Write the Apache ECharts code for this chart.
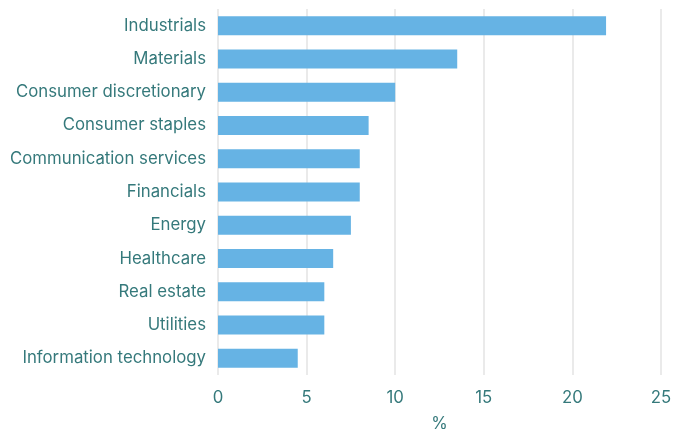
<!DOCTYPE html>
<html>
<head>
<meta charset="utf-8">
<script src="https://cdn.jsdelivr.net/npm/echarts@6/dist/echarts.min.js"></script>
<style>
  html, body { margin: 0; padding: 0; background: #fff; }
  #chart { width: 673px; height: 432px; }
</style>
</head>
<body>
<div id="chart"></div>
<script>
// Sector shares, listed top to bottom
const sectors = [
  'Industrials', 'Materials', 'Consumer discretionary', 'Consumer staples',
  'Communication services', 'Financials', 'Energy', 'Healthcare',
  'Real estate', 'Utilities', 'Information technology'
];
const shares = [21.9, 13.5, 10.0, 8.5, 8.0, 8.0, 7.5, 6.5, 6.0, 6.0, 4.5];
const axisTitle = '%';

const textColor = '#35797b';
const font = 'Inter';
const chart = echarts.init(document.getElementById('chart'));
chart.setOption({
  animation: false,
  grid: {
    left: 218, right: 12, top: 9, height: 366,
    containLabel: false,
    outerBoundsMode: 'none'
  },
  xAxis: {
    type: 'value',
    min: 0, max: 25, interval: 5,
    name: axisTitle,
    nameLocation: 'middle',
    nameGap: 40,
    nameTextStyle: { color: textColor, fontSize: 16.8, fontFamily: font },
    axisLine: { show: false },
    axisTick: { show: false },
    axisLabel: { color: textColor, fontSize: 16.8, fontFamily: font, margin: 14 },
    splitLine: { show: true, lineStyle: { color: '#e3e3e3', width: 1.5 } }
  },
  yAxis: {
    type: 'category',
    inverse: true,
    data: sectors,
    axisLine: { show: false },
    axisTick: { show: false },
    axisLabel: { color: textColor, fontSize: 16.8, fontFamily: font, margin: 12 }
  },
  series: [{
    type: 'bar',
    data: shares,
    barWidth: 19,
    itemStyle: { color: '#66b3e4' }
  }]
});
</script>
</body>
</html>
